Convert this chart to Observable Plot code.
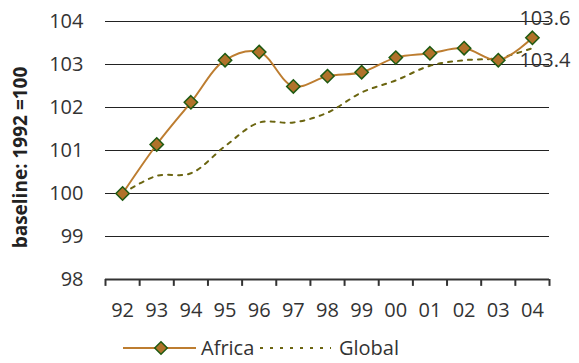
<!DOCTYPE html>
<html><head><meta charset="utf-8">
<script src="https://cdn.jsdelivr.net/npm/d3@7"></script>
<script src="https://cdn.jsdelivr.net/npm/@observablehq/plot@0.6"></script>
<style>
body{margin:0;background:#fff;font-family:"Open Sans",sans-serif;}
#legend svg{display:block;}
#chart svg{display:block;}
</style></head><body><div id="chart"></div><div id="legend"></div>
<script>
const years = ["92","93","94","95","96","97","98","99","00","01","02","03","04"];
const africa = [100, 101.14, 102.12, 103.1, 103.29, 102.49, 102.73, 102.82, 103.16, 103.26, 103.38, 103.1, 103.62];
const global = [100, 100.41, 100.47, 101.1, 101.65, 101.65, 101.88, 102.35, 102.63, 102.97, 103.1, 103.15, 103.38];
const yTicks = [98, 99, 100, 101, 102, 103, 104];
const seriesNames = ["Africa", "Global"];
const yLabel = "baseline: 1992 =100";

const idx = years.map((_, i) => i);
const africaData = idx.map(i => ({i, v: africa[i]}));
const globalData = idx.map(i => ({i, v: global[i]}));
const bounds = d3.range(-0.5, years.length, 1);
const last = years.length - 1;

const ink = "#333";
const africaColor = "#bd7d30";
const markerFill = "#b0722a";
const markerStroke = "#1e5a12";
const globalColor = "#6b6510";

const plot = Plot.plot({
  width: 579, height: 330,
  marginLeft: 105, marginRight: 30, marginTop: 21, marginBottom: 51,
  style: {fontFamily: "'Open Sans', sans-serif", fontSize: "20px", color: ink, background: "#fff", overflow: "visible"},
  x: {type: "linear", domain: [-0.5, years.length - 0.5], ticks: idx, tickFormat: i => years[i], tickSize: 0, tickPadding: 23, label: null},
  y: {domain: [98, 104], ticks: yTicks, tickFormat: d => String(d), tickSize: 0, tickPadding: 22, label: null},
  marks: [
    Plot.ruleY(yTicks.filter(t => t > 98), {stroke: "#222", strokeWidth: 1}),
    Plot.ruleX(bounds, {x: d => d, y1: 98, y2: 97.84, stroke: "#333", strokeWidth: 2}),
    Plot.ruleY([98], {stroke: "#333", strokeWidth: 2}),
    Plot.line(globalData, {x: "i", y: "v", stroke: globalColor, strokeWidth: 2, strokeDasharray: "4 6", curve: "catmull-rom"}),
    Plot.line(africaData, {x: "i", y: "v", stroke: africaColor, strokeWidth: 2, curve: "catmull-rom"}),
    Plot.dot(africaData, {x: "i", y: "v", symbol: "diamond2", r: 6, fill: markerFill, stroke: markerStroke, strokeWidth: 1.5}),
    Plot.text([africaData[last]], {x: "i", y: "v", text: d => d3.format(".1f")(d.v), textAnchor: "start", dx: -13, dy: -19, fill: ink}),
    Plot.text([globalData[last]], {x: "i", y: "v", text: d => d3.format(".1f")(d.v), textAnchor: "start", dx: -13, dy: 12, fill: ink}),
    Plot.text([yLabel], {text: d => d, frameAnchor: "left", textAnchor: "middle", rotate: -90, dx: -85, dy: 7, fontWeight: "bold", fontSize: 19, fill: "#222"})
  ]
});
document.getElementById("chart").append(plot);

// legend
const lg = d3.select("#legend").append("svg").attr("width", 579).attr("height", 33)
  .style("font-family", "'Open Sans', sans-serif").style("font-size", "20px");
const cy = 18;
lg.append("line").attr("x1", 123).attr("x2", 196).attr("y1", cy).attr("y2", cy)
  .attr("stroke", africaColor).attr("stroke-width", 2);
lg.append("path").attr("d", d3.symbol(d3.symbolDiamond2, 100)()).attr("transform", `translate(161,${cy})`)
  .attr("fill", markerFill).attr("stroke", markerStroke).attr("stroke-width", 1.5);
lg.append("text").attr("x", 201).attr("y", cy).attr("dy", "0.35em").attr("fill", ink).text(seriesNames[0]);
lg.append("line").attr("x1", 260).attr("x2", 331).attr("y1", cy).attr("y2", cy)
  .attr("stroke", globalColor).attr("stroke-width", 2).attr("stroke-dasharray", "3 7");
lg.append("text").attr("x", 339).attr("y", cy).attr("dy", "0.35em").attr("fill", ink).text(seriesNames[1]);
</script></body></html>
